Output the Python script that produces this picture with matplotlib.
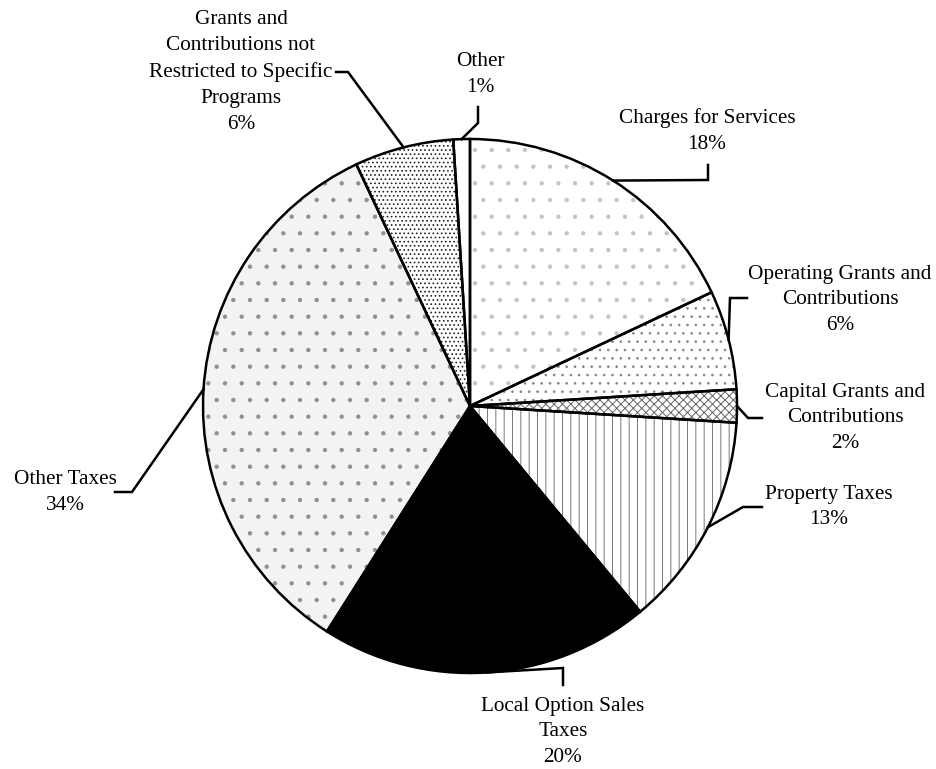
import numpy as np
import matplotlib
matplotlib.use('Agg')
import matplotlib.pyplot as plt

# revenue shares, clockwise from 12 o'clock
labels = ['Charges for Services',
          'Operating Grants and\nContributions',
          'Capital Grants and\nContributions',
          'Property Taxes',
          'Local Option Sales\nTaxes',
          'Other Taxes',
          'Grants and\nContributions not\nRestricted to Specific\nPrograms',
          'Other']
shares = [18, 6, 2, 13, 20, 34, 6, 1]

face_colors = ['white', 'white', 'white', 'white', 'black', '#f3f3f3', 'white', 'white']
hatches = ['.', '..', 'xxxx', '||', '', '.', '....', '']
hatch_colors = ['#c4c4c4', '#888888', '#666666', '#777777', 'black', '#909090', '#222222', 'white']

# label placement in pixels: text centre, then leader elbow and end
label_pos = [(707, 131), (840, 300), (845, 418), (829, 507),
             (563, 732), (65, 492), (241, 72), (480, 75)]
leader_pts = [[(708, 180), (708, 165)],
              [(730, 298), (747, 298)],
              [(748, 418), (762, 418)],
              [(743, 507), (762, 507)],
              [(563, 668), (563, 685)],
              [(132, 492), (115, 492)],
              [(348, 72), (336, 72)],
              [(478, 123), (478, 107)]]

W, H = 936, 769
cx, cy, R = 470, 406, 267

plt.rcParams['font.family'] = ['Liberation Serif', 'DejaVu Serif']
plt.rcParams['hatch.linewidth'] = 0.7

fig = plt.figure(figsize=(W / 100, H / 100), dpi=100)
ax = fig.add_axes([0, 0, 1, 1])

def px(x, y):
    return x, H - y

# fill + hatch layer
wedges, _ = ax.pie(shares, startangle=90, counterclock=False,
                   center=px(cx, cy), radius=R, frame=True)
for w, fc, h, hc in zip(wedges, face_colors, hatches, hatch_colors):
    w.set_facecolor(fc)
    w.set_hatch(h)
    w.set_edgecolor(hc)
    w.set_linewidth(0)

# outline layer
ax.pie(shares, startangle=90, counterclock=False,
       center=px(cx, cy), radius=R, frame=True,
       wedgeprops=dict(fill=False, edgecolor='black', linewidth=1.8))
ax.set_xlim(0, W)
ax.set_ylim(0, H)
ax.set_aspect('equal')
ax.axis('off')

for w, lab, val, pos, pts in zip(wedges, labels, shares, label_pos, leader_pts):
    mid = np.deg2rad((w.theta1 + w.theta2) / 2)
    ex = cx + R * np.cos(mid)
    ey = cy - R * np.sin(mid)
    xs = [ex] + [p[0] for p in pts]
    ys = [H - ey] + [H - p[1] for p in pts]
    ax.plot(xs, ys, color='black', linewidth=1.8, solid_joinstyle='miter')
    ax.text(*px(*pos), f'{lab}\n{val}%', ha='center', va='center',
            multialignment='center', fontsize=15.3, linespacing=1.5,
            color='black')

fig.savefig('out.png', dpi=100, facecolor='white')
